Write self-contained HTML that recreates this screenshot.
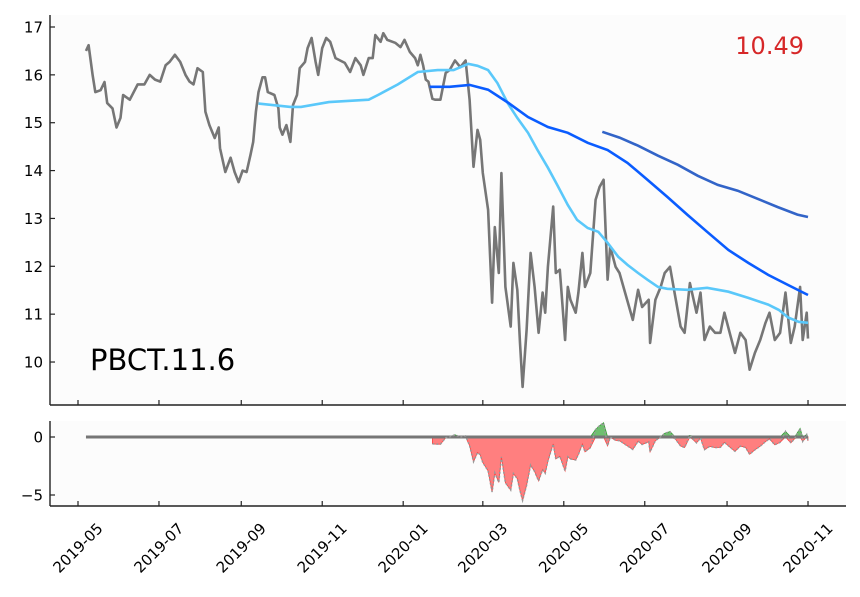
<!DOCTYPE html>
<html><head><meta charset="utf-8"><style>
body{margin:0;background:#fff;}
svg{display:block;font-family:"DejaVu Sans","Liberation Sans",sans-serif;}
</style></head><body>
<svg id="chart" width="860" height="597" viewBox="0 0 860 597"></svg>
<script>
// day offsets from 2019-05-01
const priceDays=[6,8,11,13,17,20,22,26,29,32,34,39,45,50,54,58,62,66,69,73,77,81,84,87,90,94,96,99,103,106,107,111,115,118,121,124,127,130,132,134,136,139,141,143,148,151,152,154,157,160,162,165,167,171,173,176,179,181,184,187,190,194,201,205,209,213,215,219,222,224,228,230,233,239,243,246,250,254,256,258,260,262,264,267,269,273,277,280,284,288,292,295,298,301,303,305,309,312,314,317,319,322,326,328,331,333,335,338,341,344,347,350,352,354,358,360,363,367,369,371,375,377,380,382,386,390,393,396,399,401,405,408,418,422,425,430,431,435,439,442,446,450,454,457,461,466,469,472,476,480,484,487,491,495,499,503,506,510,514,518,521,525,529,533,537,540,544,546,549,550];
const priceVals=[16.5,16.62,16.0,15.64,15.68,15.85,15.41,15.3,14.9,15.1,15.58,15.48,15.8,15.8,16.0,15.9,15.86,16.2,16.27,16.42,16.27,16.0,15.86,15.8,16.14,16.06,15.23,14.95,14.68,14.9,14.47,13.97,14.27,13.97,13.76,14.0,13.97,14.33,14.6,15.23,15.64,15.95,15.95,15.64,15.58,15.3,14.9,14.75,14.95,14.6,15.37,15.58,16.14,16.27,16.56,16.77,16.27,16.0,16.56,16.77,16.69,16.35,16.25,16.06,16.35,16.2,16.0,16.35,16.35,16.83,16.69,16.87,16.73,16.67,16.58,16.73,16.48,16.35,16.2,16.42,16.2,15.9,15.86,15.5,15.48,15.48,16.04,16.1,16.3,16.16,16.3,15.48,14.08,14.85,14.64,13.95,13.18,11.24,12.82,11.86,13.95,11.57,10.74,12.07,11.51,10.4,9.48,10.67,12.28,11.57,10.61,11.45,11.03,11.99,13.25,11.86,11.93,10.46,11.57,11.3,11.03,11.45,12.28,11.57,11.86,13.39,13.66,13.81,11.72,12.41,11.99,11.86,10.88,11.51,11.15,11.3,10.4,11.3,11.57,11.86,11.99,11.36,10.74,10.61,11.65,11.03,11.45,10.46,10.74,10.61,10.61,11.03,10.61,10.19,10.61,10.46,9.84,10.19,10.46,10.82,11.03,10.46,10.61,11.45,10.4,10.74,11.57,10.46,11.03,10.49];
const maLightDays=[136,160,168,189,219,226,241,256,271,283,294,301,309,316,324,331,339,346,354,361,369,376,384,392,399,407,414,422,429,437,444,459,474,490,505,520,528,535,543,550];
const maLightVals=[15.4,15.33,15.33,15.43,15.48,15.58,15.8,16.06,16.1,16.1,16.23,16.19,16.1,15.83,15.4,15.1,14.79,14.44,14.06,13.7,13.28,12.97,12.8,12.72,12.49,12.2,12.03,11.86,11.72,11.57,11.53,11.51,11.55,11.47,11.34,11.2,11.09,10.93,10.84,10.82];
const maBlueDays=[265,280,295,309,324,339,354,369,384,399,414,429,444,459,474,490,505,520,535,550];
const maBlueVals=[15.75,15.75,15.79,15.69,15.42,15.12,14.91,14.79,14.58,14.43,14.16,13.81,13.45,13.08,12.72,12.34,12.07,11.82,11.61,11.4];
const maDarkDays=[395,408,422,437,452,467,482,497,512,527,542,550];
const maDarkVals=[14.81,14.69,14.52,14.31,14.12,13.89,13.7,13.58,13.41,13.24,13.08,13.03];
const mainTicks=[10,11,12,13,14,15,16,17];
const subTicks=[0,-5];
const monthLabels=["2019-05","2019-07","2019-09","2019-11","2020-01","2020-03","2020-05","2020-07","2020-09","2020-11"];
const monthDays=[0,61,123,184,245,305,366,427,489,550];
const lastPriceLabel="10.49";
const tickerLabel="PBCT.11.6";

const NS="http://www.w3.org/2000/svg";
const svg=document.getElementById('chart');
function el(t,a,p){const e=document.createElementNS(NS,t);for(const k in a)e.setAttribute(k,a[k]);(p||svg).appendChild(e);return e;}
const xS=d=>78+d*1.3273;
const yM=v=>27+(17-v)*47.86;
const yB=v=>437-v*11.6;
const X0=50,X1=846,MT=15,MB=405,BT=421,BB=506;

let r=el('rect',{x:X0,y:MT,width:X1-X0,height:MB-MT,fill:'#fcfcfc'});

r=el('rect',{x:X0,y:BT,width:X1-X0,height:BB-BT,fill:'#fcfcfc'});


mainTicks.forEach(v=>{
  const y=yM(v);
  el('line',{x1:X0,x2:X0+5,y1:y,y2:y,stroke:'#222','stroke-width':1.2});
  const t=el('text',{x:X0-7,y:y+5.5,'text-anchor':'end','font-size':15,fill:'#000'});
  t.textContent=v;
  
  
});
subTicks.forEach(v=>{
  const y=yB(v);
  el('line',{x1:X0,x2:X0+5,y1:y,y2:y,stroke:'#222','stroke-width':1.2});
  const t=el('text',{x:X0-7,y:y+5.5,'text-anchor':'end','font-size':15,fill:'#000'});
  t.textContent=v===0?'0':'\u22125';
  
  
});
monthDays.forEach((d,i)=>{
  const x=xS(d);
  el('line',{x1:x,x2:x,y1:BB-5,y2:BB,stroke:'#222','stroke-width':1.2});
  el('line',{x1:x,x2:x,y1:MB-5,y2:MB,stroke:'#222','stroke-width':1.2});
  const cy=BB+42;
  const t=el('text',{x:x,y:cy+5,'text-anchor':'middle','font-size':15,fill:'#000',transform:`rotate(-45 ${x} ${cy})`});
  t.textContent=monthLabels[i];
  
  
});

function pathFrom(days,vals,ys){return days.map((d,i)=>(i?'L':'M')+xS(d).toFixed(1)+','+ys(vals[i]).toFixed(1)).join('');}
function interp(days,vals,d){
  if(d<days[0]||d>days[days.length-1])return null;
  for(let i=1;i<days.length;i++)if(d<=days[i]){const t=(d-days[i-1])/(days[i]-days[i-1]);return vals[i-1]+t*(vals[i]-vals[i-1]);}
  return vals[vals.length-1];
}

let p=el('path',{d:pathFrom(priceDays,priceVals,yM),fill:'none',stroke:'#767676','stroke-width':2.6,'stroke-linejoin':'round'});

p=el('path',{d:pathFrom(maLightDays,maLightVals,yM),fill:'none',stroke:'#5ac8fa','stroke-width':2.6});

p=el('path',{d:pathFrom(maBlueDays,maBlueVals,yM),fill:'none',stroke:'#0a5cff','stroke-width':2.6});

p=el('path',{d:pathFrom(maDarkDays,maDarkVals,yM),fill:'none',stroke:'#3264c8','stroke-width':2.6});


let t=el('text',{x:804,y:54,'text-anchor':'end','font-size':24,fill:'#d62728'});
t.textContent=lastPriceLabel;

t=el('text',{x:90,y:370,'font-size':29,fill:'#000'});
t.textContent=tickerLabel;


const diffD=[],diffV=[];
priceDays.forEach((d,i)=>{if(d>=maBlueDays[0]){const m=interp(maLightDays,maLightVals,d);if(m!==null){diffD.push(d);diffV.push(priceVals[i]-m);}}});
const neg=diffV.map(v=>Math.min(v,0)),pos=diffV.map(v=>Math.max(v,0));
const area=vs=>'M'+xS(diffD[0])+','+yB(0)+diffD.map((d,i)=>'L'+xS(d).toFixed(1)+','+yB(vs[i]).toFixed(1)).join('')+'L'+xS(diffD[diffD.length-1])+','+yB(0)+'Z';
p=el('path',{d:area(neg),fill:'#ff7f7f',stroke:'#ff4040','stroke-width':0.8});

p=el('path',{d:area(pos),fill:'#6fbf6f',stroke:'#2ca02c','stroke-width':0.8});

p=el('line',{x1:xS(priceDays[0]),x2:xS(priceDays[priceDays.length-1]),y1:yB(0),y2:yB(0),stroke:'#767676','stroke-width':3});

p=el('path',{d:pathFrom(diffD,diffV,yB),fill:'none',stroke:'#999','stroke-width':1.5,'stroke-dasharray':'2,2'});


[[X0,MT,X0,MB],[X0,MB,X1,MB],[X0,BT,X0,BB],[X0,BB,X1,BB]].forEach(c=>{
  const s=el('line',{x1:c[0],y1:c[1],x2:c[2],y2:c[3],stroke:'#222','stroke-width':1.4});
  
});
</script>
</body></html>
